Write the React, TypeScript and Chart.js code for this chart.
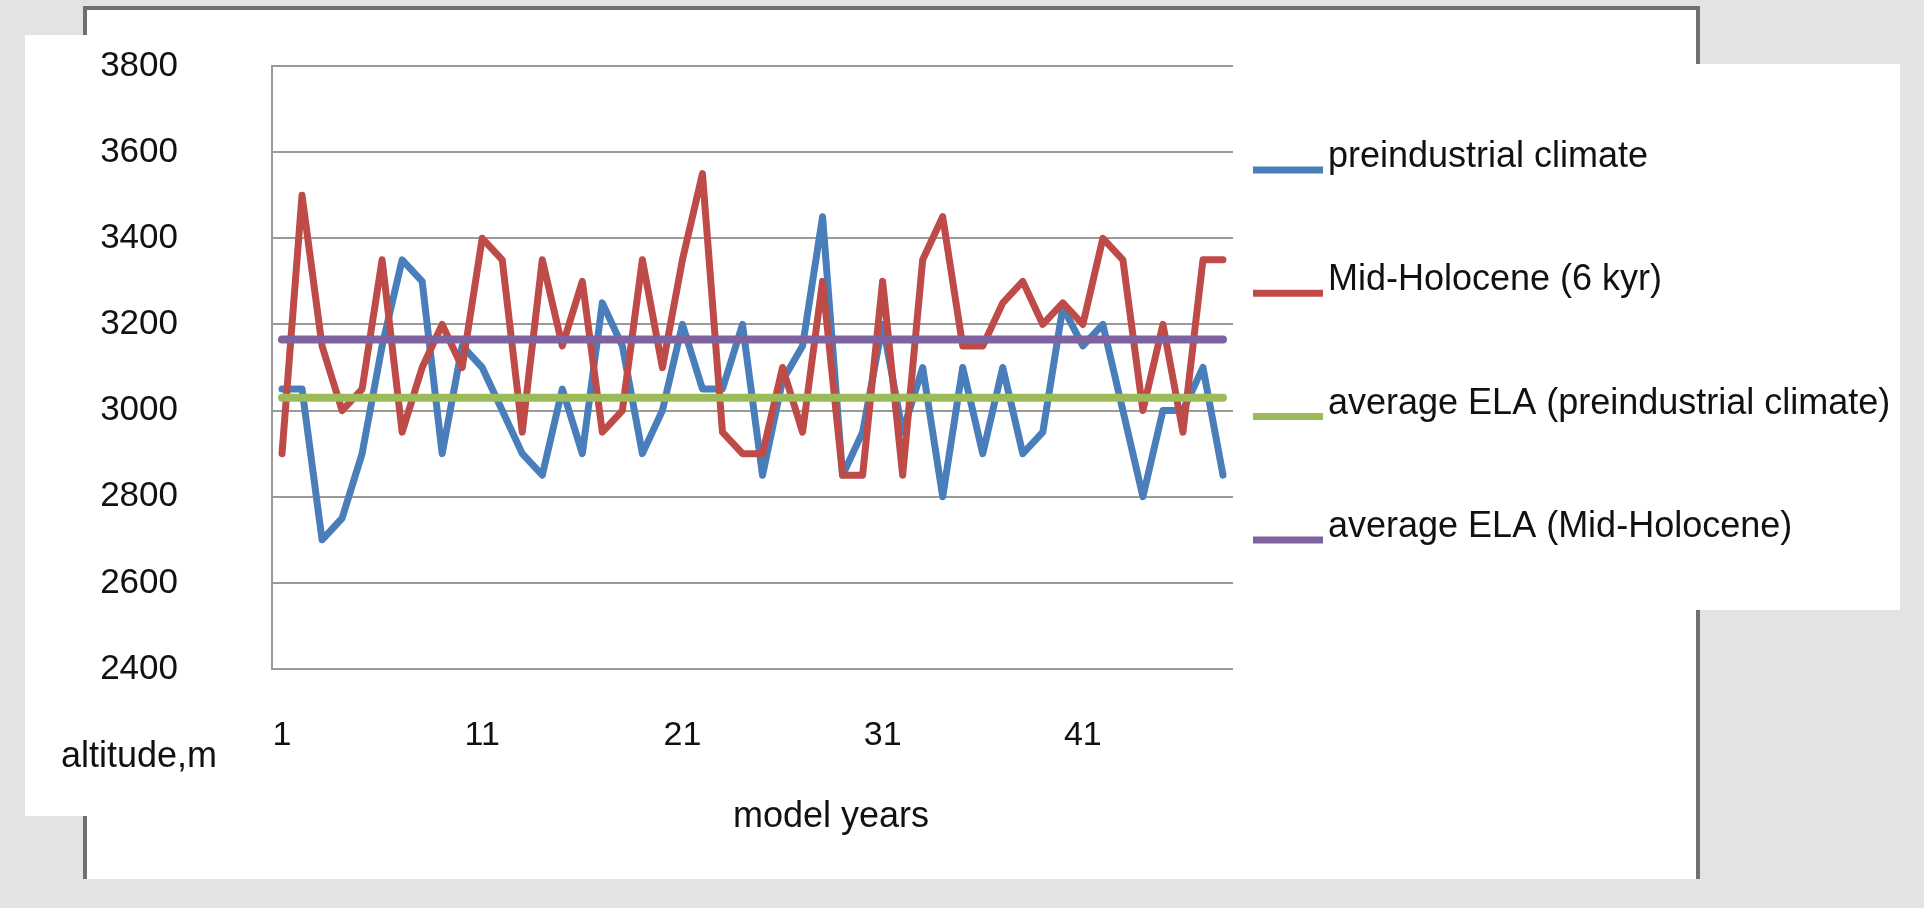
import React, { useEffect, useRef } from "react";
import { Chart, registerables } from "chart.js";

Chart.register(...registerables);

// ---- data ----
const years = [
  "1", "2", "3", "4", "5", "6", "7", "8", "9", "10",
  "11", "12", "13", "14", "15", "16", "17", "18", "19", "20",
  "21", "22", "23", "24", "25", "26", "27", "28", "29", "30",
  "31", "32", "33", "34", "35", "36", "37", "38", "39", "40",
  "41", "42", "43", "44", "45", "46", "47", "48",
];

const xTickLabels = ["1", "11", "21", "31", "41"];

const preindustrial = [
  3050, 3050, 2700, 2750, 2900, 3150, 3350, 3300, 2900, 3150,
  3100, 3000, 2900, 2850, 3050, 2900, 3250, 3150, 2900, 3000,
  3200, 3050, 3050, 3200, 2850, 3070, 3150, 3450, 2850, 2950,
  3200, 2950, 3100, 2800, 3100, 2900, 3100, 2900, 2950, 3240,
  3150, 3200, 3000, 2800, 3000, 3000, 3100, 2850,
];

const midHolocene = [
  2900, 3500, 3150, 3000, 3050, 3350, 2950, 3100, 3200, 3100,
  3400, 3350, 2950, 3350, 3150, 3300, 2950, 3000, 3350, 3100,
  3350, 3550, 2950, 2900, 2900, 3100, 2950, 3300, 2850, 2850,
  3300, 2850, 3350, 3450, 3150, 3150, 3250, 3300, 3200, 3250,
  3200, 3400, 3350, 3000, 3200, 2950, 3350, 3350,
];

const avgPreindustrial = 3030;
const avgMidHolocene = 3165;

const yTicks = { min: 2400, max: 3800, step: 200 };

const seriesLabels = [
  "preindustrial climate",
  "Mid-Holocene (6 kyr)",
  "average ELA (preindustrial climate)",
  "average ELA (Mid-Holocene)",
];
const seriesColors = ["#4A7EBB", "#BE4B48", "#9BBB59", "#7F63A1"];

const axisTitleY = "altitude,m";
const axisTitleX = "model years";

const FONT = '"Liberation Sans", Arial, sans-serif';

export default function App() {
  const ref = useRef<HTMLCanvasElement | null>(null);

  useEffect(() => {
    document.body.style.margin = "0";
    const canvas = ref.current;
    if (!canvas) return;

    const backdrop = {
      id: "backdrop",
      beforeDraw(chart: any) {
        const ctx = chart.ctx;
        ctx.save();
        ctx.fillStyle = "#e3e3e3";
        ctx.fillRect(0, 0, chart.width, chart.height);
        // slide frame
        ctx.fillStyle = "#ffffff";
        ctx.fillRect(85, 8, 1613, 871);
        ctx.strokeStyle = "#6f6f6f";
        ctx.lineWidth = 4;
        ctx.beginPath();
        ctx.moveTo(85, 879);
        ctx.lineTo(85, 8);
        ctx.lineTo(1698, 8);
        ctx.lineTo(1698, 879);
        ctx.stroke();
        // chart box
        ctx.fillStyle = "#ffffff";
        ctx.fillRect(25, 35, 1215, 781);
        // legend box
        ctx.fillRect(1233, 64, 667, 546);
        ctx.restore();
      },
    };

    const annotations = {
      id: "annotations",
      afterDraw(chart: any) {
        const ctx = chart.ctx;
        ctx.save();
        ctx.fillStyle = "#111111";
        ctx.font = `36px ${FONT}`;
        ctx.textBaseline = "alphabetic";
        ctx.textAlign = "left";
        ctx.fillText(axisTitleY, 61, 767);
        ctx.textAlign = "center";
        ctx.fillText(axisTitleX, 831, 827);
        // legend
        chart.data.datasets.forEach((ds: any, i: number) => {
          const y = 167 + i * 123.3;
          ctx.strokeStyle = ds.borderColor;
          ctx.lineWidth = 7;
          ctx.lineCap = "butt";
          ctx.beginPath();
          ctx.moveTo(1253, y + 3);
          ctx.lineTo(1323, y + 3);
          ctx.stroke();
          ctx.textAlign = "left";
          ctx.fillStyle = "#111111";
          ctx.fillText(ds.label, 1328, y);
        });
        ctx.restore();
      },
    };

    const chart = new Chart(canvas, {
      type: "line",
      data: {
        labels: years,
        datasets: [
          {
            label: seriesLabels[0],
            data: preindustrial,
            borderColor: seriesColors[0],
            borderWidth: 7,
            order: 4,
          },
          {
            label: seriesLabels[1],
            data: midHolocene,
            borderColor: seriesColors[1],
            borderWidth: 7,
            order: 3,
          },
          {
            label: seriesLabels[2],
            data: years.map(() => avgPreindustrial),
            borderColor: seriesColors[2],
            borderWidth: 8,
            order: 2,
          },
          {
            label: seriesLabels[3],
            data: years.map(() => avgMidHolocene),
            borderColor: seriesColors[3],
            borderWidth: 8,
            order: 1,
          },
        ],
      },
      options: {
        animation: false,
        responsive: false,
        maintainAspectRatio: false,
        layout: { padding: { left: 0, top: 66, right: 691, bottom: 0 } },
        elements: {
          point: { radius: 0, hoverRadius: 0 },
          line: { tension: 0, borderJoinStyle: "round", borderCapStyle: "round", fill: false },
        },
        plugins: {
          legend: { display: false },
          tooltip: { enabled: false },
          title: { display: false },
        },
        scales: {
          x: {
            type: "category",
            offset: true,
            grid: { display: false, drawTicks: false },
            border: { display: false },
            ticks: {
              autoSkip: false,
              maxRotation: 0,
              minRotation: 0,
              padding: 46,
              color: "#111111",
              font: { family: FONT, size: 34 },
              callback: function (this: any, value: any) {
                const l = this.getLabelForValue(value);
                return xTickLabels.includes(l) ? l : "";
              },
            },
            afterFit: (s: any) => {
              s.height = 239;
              s.paddingLeft = 0;
              s.paddingRight = 0;
            },
          },
          y: {
            min: yTicks.min,
            max: yTicks.max,
            ticks: {
              stepSize: yTicks.step,
              padding: 94,
              color: "#111111",
              font: { family: FONT, size: 35 },
              callback: (value: any) => String(value),
            },
            grid: { color: "#9a9a9a", lineWidth: 2, drawTicks: false },
            border: { display: true, color: "#9a9a9a", width: 2 },
            afterFit: (s: any) => {
              s.width = 272;
              s.paddingTop = 0;
              s.paddingBottom = 0;
            },
          },
        },
      },
      plugins: [backdrop, annotations],
    });

    return () => chart.destroy();
  }, []);

  return (
    <div style={{ position: "relative", width: 1924, height: 908, overflow: "hidden" }}>
      <canvas ref={ref} width={1924} height={908} style={{ display: "block" }} />
    </div>
  );
}
